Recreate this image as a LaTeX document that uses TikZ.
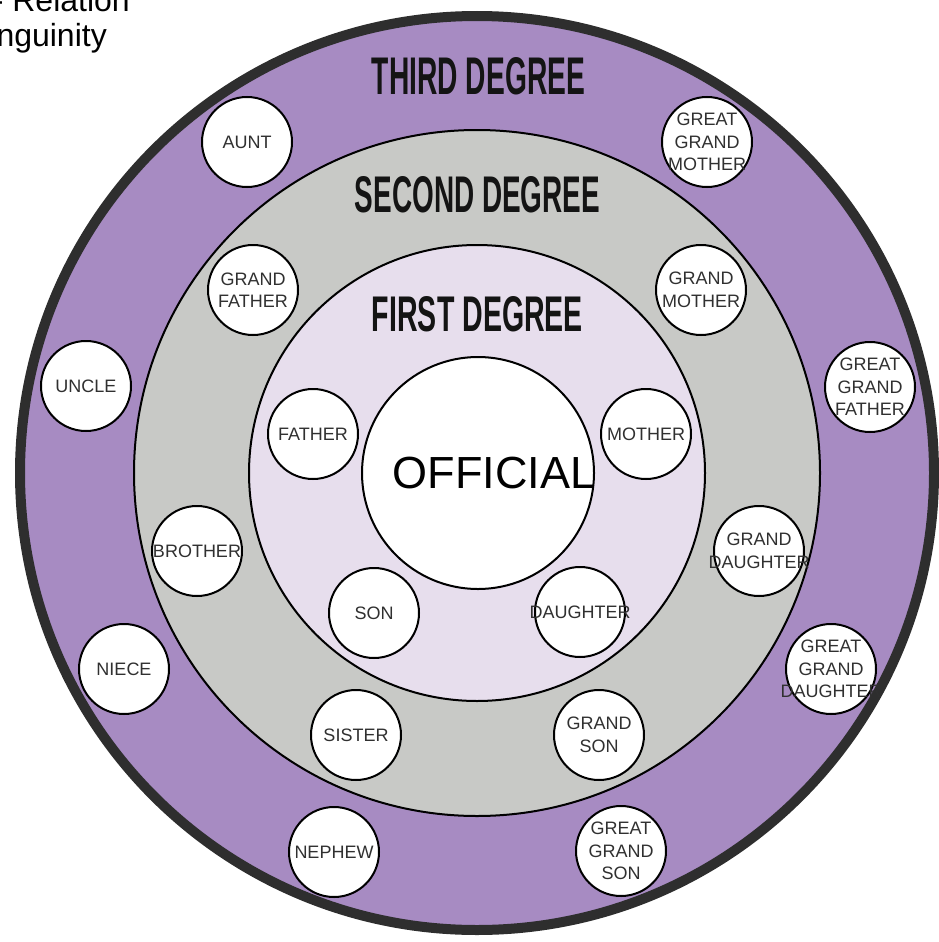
\documentclass[tikz,border=0pt]{standalone}
\usepackage{fontspec}
\usepackage{graphicx}
\setmainfont{Liberation Sans}
\definecolor{ringthree}{HTML}{A78BC2}
\definecolor{ringtwo}{HTML}{C8C9C6}
\definecolor{ringone}{HTML}{E7DEED}
\definecolor{outline}{HTML}{2E2E2E}
\definecolor{lbltxt}{HTML}{303030}
\definecolor{titletxt}{HTML}{141414}
\tikzset{
  smallcirc/.style={circle, draw=black, line width=2pt, fill=white, minimum size=90pt, inner sep=0pt},
  lbl/.style={align=center, text=lbltxt, inner sep=0pt, font=\fontsize{18}{22.5}\selectfont},
  ringtitle/.style={inner sep=0pt, text=titletxt},
  toptext/.style={inner sep=0pt, font=\fontsize{32}{36}\selectfont, text=black}
}
\begin{document}
\begin{tikzpicture}[x=1pt,y=-1pt]
\useasboundingbox (0,0) rectangle (938,942);
\coordinate (c) at (477,473);
% rings
\draw[line width=10pt, draw=outline, fill=ringthree] (c) circle (457);
\draw[line width=2pt, draw=black, fill=ringtwo] (c) circle (343);
\draw[line width=2pt, draw=black, fill=ringone] (c) circle (228);
% official
\node[circle, draw=black, line width=2pt, fill=white, minimum size=232pt, inner sep=0pt] (official) at (478,473) {};
\node[anchor=base, inner sep=0pt, font=\fontsize{45}{50}\selectfont] (officialtxt) at (494,488) {OFFICIAL};
% titles
\node[ringtitle] (t3) at (478.5,76.5) {\resizebox{213pt}{37pt}{\bfseries THIRD DEGREE}};
\node[ringtitle] (t2) at (477.5,195) {\resizebox{245pt}{36pt}{\bfseries SECOND DEGREE}};
\node[ringtitle] (t1) at (477.5,314.5) {\resizebox{211pt}{35pt}{\bfseries FIRST DEGREE}};
% first degree
\node[smallcirc] (father) at (313,434) {};
\node[lbl] at (father) {FATHER};
\node[smallcirc] (mother) at (646,434) {};
\node[lbl] at (mother) {MOTHER};
\node[smallcirc] (son) at (374,613) {};
\node[lbl] at (son) {SON};
\node[smallcirc] (daughter) at (580,612) {};
\node[lbl] at (daughter) {DAUGHTER};
% second degree
\node[smallcirc] (gfather) at (253,290) {};
\node[lbl] at (gfather) {GRAND\\FATHER};
\node[smallcirc] (gmother) at (701,290) {};
\node[lbl] at (gmother) {GRAND\\MOTHER};
\node[smallcirc] (brother) at (197,551) {};
\node[lbl] at (brother) {BROTHER};
\node[smallcirc] (gdaughter) at (759,551) {};
\node[lbl] at (gdaughter) {GRAND\\DAUGHTER};
\node[smallcirc] (sister) at (356,735) {};
\node[lbl] at (sister) {SISTER};
\node[smallcirc] (gson) at (599,735) {};
\node[lbl] at (gson) {GRAND\\SON};
% third degree
\node[smallcirc] (aunt) at (247,142) {};
\node[lbl] at (aunt) {AUNT};
\node[smallcirc] (ggmother) at (707,142) {};
\node[lbl] at (ggmother) {GREAT\\GRAND\\MOTHER};
\node[smallcirc] (uncle) at (86,386) {};
\node[lbl] at (uncle) {UNCLE};
\node[smallcirc] (ggfather) at (870,387) {};
\node[lbl] at (ggfather) {GREAT\\GRAND\\FATHER};
\node[smallcirc] (niece) at (124,669) {};
\node[lbl] at (niece) {NIECE};
\node[smallcirc] (ggdaughter) at (831,669) {};
\node[lbl] at (ggdaughter) {GREAT\\GRAND\\DAUGHTER};
\node[smallcirc] (nephew) at (334,852) {};
\node[lbl] at (nephew) {NEPHEW};
\node[smallcirc] (ggson) at (621,851) {};
\node[lbl] at (ggson) {GREAT\\GRAND\\SON};
% cut-off heading text
\node[toptext, anchor=base east] (head1) at (130,12) {- Relation};
\node[toptext, anchor=base east] (head2) at (107,47) {nguinity};
\end{tikzpicture}
\end{document}
